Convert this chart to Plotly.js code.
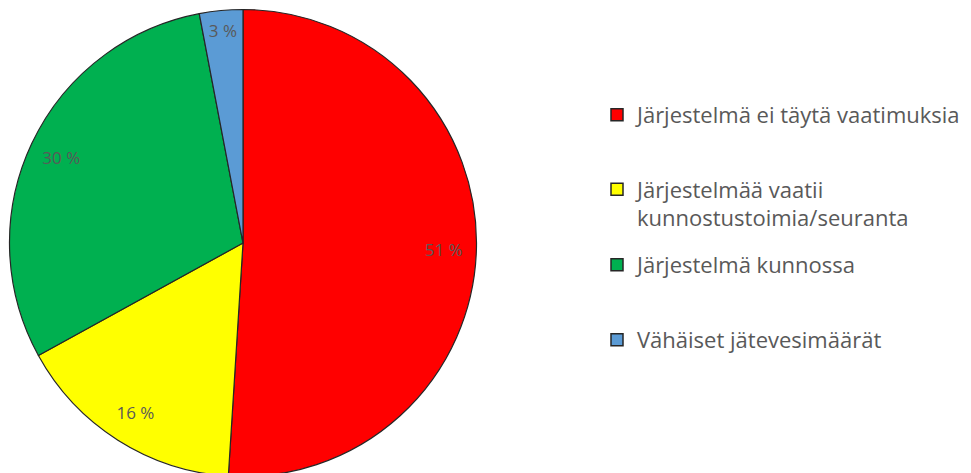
<!DOCTYPE html>
<html>
<head>
<meta charset="utf-8">
<script src="https://cdn.plot.ly/plotly-3.0.1.min.js"></script>
<style>
  html, body { margin: 0; padding: 0; overflow: hidden; background: #fff; }
  #plot { width: 971px; height: 486px; }
</style>
</head>
<body>
<div id="plot"></div>
<script>
// ============================================
// DATOS
// ============================================

const labels = [
    "Järjestelmä ei täytä vaatimuksia",
    "Järjestelmää vaatii<br>kunnostustoimia/seuranta",
    "Järjestelmä kunnossa",
    "Vähäiset jätevesimäärät"
];
const values = [51, 16, 30, 3];
const colors = ["#FF0000", "#FFFF00", "#00B050", "#5B9BD5"];

// ============================================
// TRAZAS
// ============================================

const W = 971;
const H = 486;
const FONT = "'Open Sans', Lato, sans-serif";
const GRAY = "#595959";

const pieDomain = {
    x: [9.5 / W, 476.5 / W],
    y: [1 - 476.5 / H, 1 - 9.5 / H]
};

let traces = [];

// tarta principal
traces.push({
    type: "pie",
    labels: labels,
    values: values,
    sort: false,
    direction: "clockwise",
    rotation: 0,
    marker: {
        colors: colors,
        line: { color: "#262626", width: 1.2 }
    },
    textinfo: "none",
    hoverinfo: "none",
    showlegend: false,
    domain: pieDomain
});

// anillo transparente solo para poner las etiquetas cerca del borde
traces.push({
    type: "pie",
    labels: labels,
    values: values,
    sort: false,
    direction: "clockwise",
    rotation: 0,
    hole: 0.72,
    marker: {
        colors: colors.map(() => "rgba(0,0,0,0)"),
        line: { width: 0 }
    },
    texttemplate: "%{value} %",
    textposition: "inside",
    insidetextorientation: "horizontal",
    textfont: { family: FONT, size: 17, color: GRAY },
    hoverinfo: "none",
    showlegend: false,
    domain: pieDomain
});

// leyenda: una entrada por categoría (Excel las separa de forma irregular)
const legendNames = ["legend", "legend2", "legend3", "legend4"];
const legendMidPx = [115, 204, 265, 340];

labels.forEach((lab, i) => {
    traces.push({
        type: "scatter",
        mode: "markers",
        x: [null],
        y: [null],
        name: lab,
        legend: legendNames[i],
        marker: {
            symbol: "square",
            size: 12,
            color: colors[i],
            line: { color: "#262626", width: 1.5 }
        },
        hoverinfo: "none"
    });
});

// ============================================
// CONFIGURACIÓN
// ============================================

const layout = {
    width: W,
    height: H,
    margin: { l: 0, r: 0, t: 0, b: 0 },
    paper_bgcolor: "#ffffff",
    plot_bgcolor: "#ffffff",
    xaxis: { visible: false },
    yaxis: { visible: false },
    font: { family: FONT, color: GRAY }
};

legendNames.forEach((ln, i) => {
    layout[ln] = {
        x: 597 / W,
        xanchor: "left",
        y: 1 - legendMidPx[i] / H,
        yanchor: "middle",
        valign: "top",
        bgcolor: "rgba(0,0,0,0)",
        borderwidth: 0,
        itemclick: false,
        font: { family: FONT, size: 22, color: GRAY }
    };
});

Plotly.newPlot("plot", traces, layout, { displayModeBar: false, staticPlot: true });
</script>
</body>
</html>
